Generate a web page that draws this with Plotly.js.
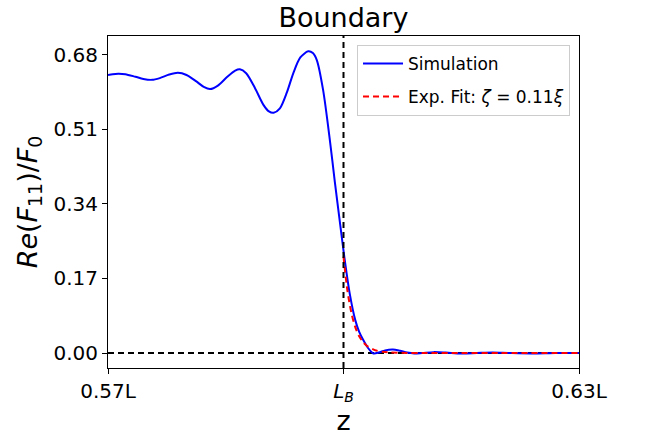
<!DOCTYPE html>
<html>
<head>
<meta charset="utf-8">
<script src="https://cdn.plot.ly/plotly-3.0.1.min.js"></script>
<style>html,body{margin:0;padding:0;background:#fff;}#chart{width:651px;height:438px;}</style>
</head>
<body>
<div id="chart"></div>
<script>
// z in units of L
const simZ = [0.5700,0.5706,0.5713,0.5722,0.5735,0.5745,0.5756,0.5766,0.5778,0.5789,0.5800,0.5812,0.5822,0.5830,0.5840,0.5852,0.5862,0.5868,0.5876,0.5887,0.5898,0.5905,0.5911,0.5919,0.5928,0.5936,0.5945,0.5955,0.5961,0.5966,0.5974,0.5983,0.5989,0.5996,0.6001,0.6008,0.6015,0.6020,0.6025,0.6031,0.6038,0.6045,0.6053,0.6063,0.6072,0.6081,0.6090,0.6100,0.6115,0.6130,0.6150,0.6170,0.6190,0.6210,0.6240,0.6270,0.6300];
const simRe = [0.634,0.636,0.637,0.636,0.630,0.625,0.623,0.627,0.635,0.639,0.634,0.620,0.607,0.602,0.610,0.630,0.644,0.647,0.638,0.605,0.566,0.551,0.548,0.558,0.595,0.638,0.674,0.688,0.684,0.668,0.600,0.480,0.390,0.290,0.220,0.135,0.075,0.048,0.030,0.012,-0.001,0.001,0.006,0.008,0.005,0.001,-0.001,0.000,0.002,0.001,-0.001,0.000,0.001,0.000,-0.001,0.000,0.000];
const fitZ = [0.6000,0.6005,0.6010,0.6015,0.6020,0.6025,0.6030,0.6040,0.6050,0.6060,0.6080,0.6100,0.6150,0.6200,0.6300];
const fitRe = [0.220,0.142,0.092,0.059,0.038,0.025,0.016,0.0066,0.0028,0.0012,0.0002,0.0000,0.0000,0.0000,0.0000];
const boundaryZ = [0.600];
const xTickVals = [0.57, 0.60, 0.63];
const xTickText = ['0.57L', '<i>L</i><sub><i>B</i></sub>', '0.63L'];
const yTickVals = [0.00, 0.17, 0.34, 0.51, 0.68];

const font = 'DejaVu Sans, sans-serif';
const traces = [
  {x: simZ, y: simRe, type: 'scatter', mode: 'lines', name: 'Simulation', legendgroup: 'a',
   line: {color: '#0000ff', width: 2, shape: 'spline', smoothing: 0.8}},
  {x: fitZ, y: fitRe, type: 'scatter', mode: 'lines', name: 'Exp. Fit: <i>ζ</i> = 0.11<i>ξ</i>', legendgroup: 'b',
   line: {color: '#ff0000', width: 2, dash: '6px,4px', shape: 'spline', smoothing: 0.8}}
];
const layout = {
  width: 651, height: 438,
  margin: {l: 108, r: 72, t: 36, b: 70},
  paper_bgcolor: '#fff', plot_bgcolor: '#fff',
  font: {family: font, color: '#000'},
  showlegend: true,
  title: {text: 'Boundary', font: {family: font, size: 27, color: '#000'},
          x: 0.5275, xanchor: 'center', y: 0.982, yanchor: 'top'},
  xaxis: {range: [0.57, 0.63], tickvals: xTickVals, ticktext: xTickText,
          ticks: 'outside', ticklen: 5, tickwidth: 1, tickcolor: '#000',
          showline: true, linecolor: '#000', linewidth: 1, mirror: true,
          showgrid: false, zeroline: false,
          tickfont: {family: font, size: 20, color: '#000'},
          title: {text: 'z', font: {family: font, size: 27, color: '#000'}, standoff: 6}},
  yaxis: {range: [-0.0342, 0.723], tickvals: yTickVals, tickformat: '.2f',
          ticks: 'outside', ticklen: 5, tickwidth: 1, tickcolor: '#000',
          showline: true, linecolor: '#000', linewidth: 1, mirror: true,
          showgrid: false, zeroline: false,
          tickfont: {family: font, size: 20, color: '#000'},
          title: {text: '<i>Re</i>(<i>F</i><sub>11</sub>)/<i>F</i><sub>0</sub>',
                  font: {family: font, size: 27, color: '#000'}, standoff: 8}},
  legend: {x: 0.5287, y: 0.973, xanchor: 'left', yanchor: 'top',
           bgcolor: 'rgba(255,255,255,0.8)', bordercolor: '#cccccc', borderwidth: 1,
           itemwidth: 40, tracegroupgap: 8,
           font: {family: font, size: 17, color: '#000'}},
  shapes: [
    {type: 'line', xref: 'x', yref: 'paper', x0: boundaryZ[0], x1: boundaryZ[0], y0: 0, y1: 1,
     line: {color: '#000', width: 2, dash: '6px,4px'}},
    {type: 'line', xref: 'paper', yref: 'y', x0: 0, x1: 1, y0: 0, y1: 0, layer: 'below',
     line: {color: '#000', width: 2, dash: '6px,4px'}}
  ]
};
Plotly.newPlot('chart', traces, layout, {displayModeBar: false, staticPlot: true});
</script>
</body>
</html>
